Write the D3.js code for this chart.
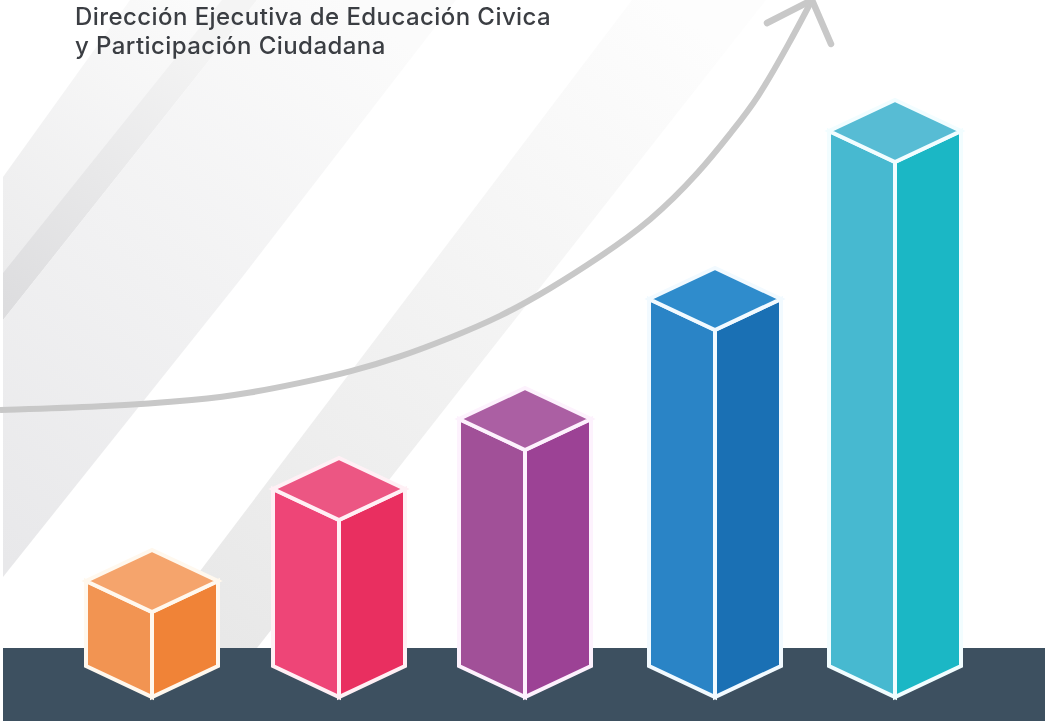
<!DOCTYPE html>
<html>
<head>
<meta charset="utf-8">
<script src="https://cdn.jsdelivr.net/npm/d3@7"></script>
<style>
  html, body { margin: 0; padding: 0; background: #fff; overflow: hidden; }
  svg { display: block; filter: blur(0.6px); }
  .heading { font-family: Inter, "Open Sans", sans-serif; font-size: 24px; font-weight: 500; letter-spacing: 0.43px; fill: #3b3e43; }
</style>
</head>
<body>
<div id="chart"></div>
<script>
// bars, left to right (no labels in the picture, values are front edge heights read in px)
var categories = ["1", "2", "3", "4", "5"];
var barValues = [85, 177, 247, 367, 535];

// rising arrow
var trendX = [0, 100, 200, 250, 300, 350, 400, 450, 500, 550, 600, 650, 700, 733, 757, 790, 812];
var trendY = [287, 290, 297, 304, 314, 325, 340, 359, 380, 408, 440, 475, 525, 567, 597, 655, 697];
var arrowX = [767, 812, 831];
var arrowY = [674, 697, 653];

var headingLines = ["Dirección Ejecutiva de Educación Civica", "y Participación Ciudadana"];

var width = 1045;
var height = 721;
// base of the front edge of each bar
var baseY = 697;
var groundY = 648;
var halfW = 66;
var rise = 31;

var leftColors = ["#f29452", "#ee4577", "#a15098", "#2a84c6", "#47b9d0"];
var rightColors = ["#f08337", "#e92f60", "#9c4295", "#1a70b4", "#1bb7c5"];
var topColors = ["#f5a46c", "#ec5683", "#ab5fa3", "#2f8ccc", "#57bcd4"];
var edgeColors = ["#fff8ee", "#fff0f5", "#fdf2fd", "#f2faff", "#f2fdff"];

var svg = d3.select("#chart").append("svg")
  .attr("width", width).attr("height", height);

var xPos = d3.scaleOrdinal().domain(categories).range([152, 339, 525, 715, 895]);
var yScale = d3.scaleLinear().domain([0, 600]).range([baseY, baseY - 600]);
var xTrend = d3.scaleLinear().domain([0, width]).range([0, width]);

// background stripes
var defs = svg.append("defs");
var stripes = [
  { id: "s1", pts: [[3, 177], [130, 0], [257, 0], [3, 320]], from: [3, 300], to: [230, 30], c0: "#ebebec", c1: "#fbfbfb" },
  { id: "s2", pts: [[3, 273], [222, 0], [257, 0], [3, 320]], from: [3, 320], to: [210, 50], c0: "#dcdcde", c1: "#f4f4f4" },
  { id: "s3", pts: [[3, 320], [257, 0], [456, 0], [240, 280], [3, 577]], from: [3, 560], to: [400, 40], c0: "#e8e8ea", c1: "#fbfbfb" },
  { id: "s4", pts: [[160, 624], [632, 0], [766, 0], [257, 648], [160, 648]], from: [220, 640], to: [700, 30], c0: "#e8e8e8", c1: "#fdfdfd" }
];
stripes.forEach(function(s) {
  var g = defs.append("linearGradient").attr("id", s.id)
    .attr("gradientUnits", "userSpaceOnUse")
    .attr("x1", s.from[0]).attr("y1", s.from[1])
    .attr("x2", s.to[0]).attr("y2", s.to[1]);
  g.append("stop").attr("offset", 0).attr("stop-color", s.c0);
  g.append("stop").attr("offset", 1).attr("stop-color", s.c1);
});
svg.append("g").selectAll("polygon").data(stripes).enter().append("polygon")
  .attr("points", function(d) { return d.pts.join(" "); })
  .attr("fill", function(d) { return "url(#" + d.id + ")"; });

// heading
svg.append("g").selectAll("text").data(headingLines).enter().append("text")
  .attr("class", "heading")
  .attr("x", 75)
  .attr("y", function(d, i) { return 24.5 + i * 29; })
  .text(function(d) { return d; });

// arrow
var trendLine = d3.line()
  .x(function(d) { return xTrend(d[0]); })
  .y(function(d) { return yScale(d[1]); });
svg.append("path").attr("d", trendLine.curve(d3.curveBasis)(d3.zip(trendX, trendY)))
  .attr("fill", "none").attr("stroke", "#c8c8c8").attr("stroke-width", 6);
svg.append("path")
  .attr("d", trendLine.curve(d3.curveLinear)(d3.zip(arrowX, arrowY)))
  .attr("fill", "none").attr("stroke", "#c8c8c8").attr("stroke-width", 6.5)
  .attr("stroke-linecap", "round").attr("stroke-linejoin", "round");

// ground
svg.append("rect").attr("x", 3).attr("y", groundY)
  .attr("width", width - 3).attr("height", height - groundY)
  .attr("fill", "#3d5060");

// bars
var bars = svg.append("g").selectAll("g").data(categories).enter().append("g");

function face(d, i, side) {
  var cx = xPos(d);
  var front = yScale(barValues[i]);
  var outer = cx + side * halfW;
  return [[outer, front - rise], [cx, front], [cx, baseY], [outer, baseY - rise]].join(" ");
}

bars.append("polygon")
  .attr("points", function(d, i) { return face(d, i, -1); })
  .attr("fill", function(d, i) { return leftColors[i]; })
  .attr("stroke", function(d, i) { return edgeColors[i]; });
bars.append("polygon")
  .attr("points", function(d, i) { return face(d, i, 1); })
  .attr("fill", function(d, i) { return rightColors[i]; })
  .attr("stroke", function(d, i) { return edgeColors[i]; });
bars.append("polygon")
  .attr("points", function(d, i) {
    var cx = xPos(d);
    var front = yScale(barValues[i]);
    return [[cx, front], [cx + halfW, front - rise], [cx, front - 2 * rise], [cx - halfW, front - rise]].join(" ");
  })
  .attr("fill", function(d, i) { return topColors[i]; })
  .attr("stroke", function(d, i) { return edgeColors[i]; });
bars.selectAll("polygon")
  .attr("stroke-width", 4)
  .attr("stroke-linejoin", "miter");
</script>
</body>
</html>
